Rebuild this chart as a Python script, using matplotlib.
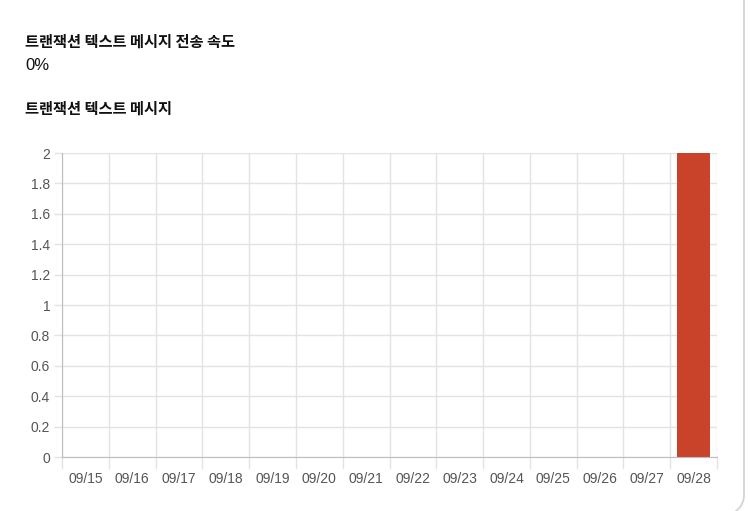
import matplotlib
matplotlib.use('Agg')
import matplotlib.pyplot as plt
from matplotlib.lines import Line2D
import numpy as np

plt.rcParams['font.family'] = ['Liberation Sans', 'Noto Sans CJK KR']

dates = ['09/15', '09/16', '09/17', '09/18', '09/19', '09/20', '09/21',
         '09/22', '09/23', '09/24', '09/25', '09/26', '09/27', '09/28']
counts = [0, 0, 0, 0, 0, 0, 0, 0, 0, 0, 0, 0, 0, 2]
y_ticks = [0, 0.2, 0.4, 0.6, 0.8, 1, 1.2, 1.4, 1.6, 1.8, 2]
y_labels = ['0', '0.2', '0.4', '0.6', '0.8', '1', '1.2', '1.4', '1.6', '1.8', '2']

title_main = '트랜잭션 텍스트 메시지 전송 속도'
rate_text = '0%'
title_chart = '트랜잭션 텍스트 메시지'

W, H = 750, 511
fig = plt.figure(figsize=(W / 100, H / 100), dpi=100)

# card border on the right edge (pixel coords, y measured from top)
r = 20
t = np.linspace(0, np.pi / 2, 30)
bx = np.concatenate([[744, 744], 724 + r * np.cos(t)])
by = np.concatenate([[0, 495], 495 + r * np.sin(t)])
fig.add_artist(Line2D(bx / W, 1 - by / H, transform=fig.transFigure,
                      color='#d4d4d4', linewidth=1.3))

kor = ['Noto Sans CJK KR', 'Liberation Sans']
fig.text(25 / W, 1 - 42 / H, title_main, fontsize=11, fontweight='bold',
         family=kor, va='center', ha='left', color='#111111')
fig.text(25 / W, 1 - 65 / H, rate_text, fontsize=12, va='center', ha='left',
         color='#111111')
fig.text(25 / W, 1 - 109 / H, title_chart, fontsize=11, fontweight='bold',
         family=kor, va='center', ha='left', color='#111111')

ax = fig.add_axes([62 / W, 1 - 457 / H, (717 - 62) / W, (457 - 153) / H])
x = np.arange(len(dates))
ax.bar(x, counts, width=0.72, color='#c9432a', zorder=3)

ax.set_xlim(-0.5, len(dates) - 0.5)
ax.set_ylim(0, 2)
ax.set_yticks(y_ticks)
ax.set_yticklabels(y_labels)
ax.set_xticks(x)
ax.set_xticklabels(dates)

# gridlines at category boundaries, like chart.js offset grid
for b in np.arange(-0.5, len(dates), 1.0):
    ax.axvline(b, color='#e3e3e3', linewidth=1, zorder=1)
    ax.plot([b, b], [0, -0.072], color='#e3e3e3', linewidth=1,
            clip_on=False, zorder=1)
for yv in y_ticks:
    ax.axhline(yv, color='#e3e3e3', linewidth=1, zorder=1)

for s in ['top', 'right']:
    ax.spines[s].set_visible(False)
ax.spines['left'].set_color('#bdbdbd')
ax.spines['bottom'].set_color('#bdbdbd')
ax.spines['left'].set_zorder(4)
ax.spines['bottom'].set_zorder(4)

ax.tick_params(axis='x', length=0, pad=11, labelsize=10, labelcolor='#555555')
ax.tick_params(axis='y', length=6, width=1, color='#e3e3e3', pad=2.5,
               labelsize=10, labelcolor='#555555')

fig.savefig('out.png', dpi=100)
